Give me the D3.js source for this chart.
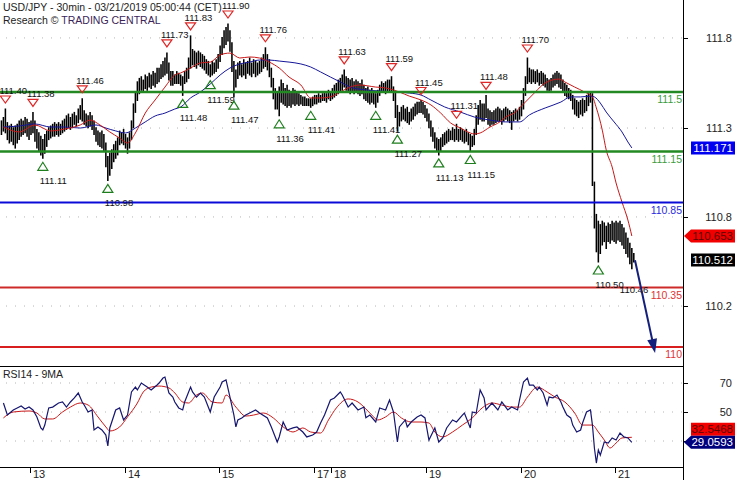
<!DOCTYPE html>
<html>
<head>
<meta charset="utf-8">
<script src="https://cdn.jsdelivr.net/npm/d3@7"></script>
<style>
  body { margin: 0; background: #fff; }
  svg text { font-family: "Liberation Sans", Arial, sans-serif; }
</style>
</head>
<body>
<svg id="chart" width="735" height="480"></svg>
<script>
// USD/JPY 30min bars, 12 Mar (late) .. 21 Mar 05:00 — one [high, low] per bar
const barHigh = [
  111.33,111.35,111.40,111.32,111.30,111.31,111.29,111.30,111.31,111.33,
  111.34,111.33,111.35,111.34,111.32,111.33,111.38,111.33,111.28,111.26,
  111.24,111.22,111.25,111.27,111.29,111.30,111.31,111.32,111.31,111.32,
  111.31,111.33,111.34,111.36,111.37,111.35,111.37,111.38,111.36,111.40,
  111.42,111.46,111.39,111.37,111.36,111.38,111.36,111.33,111.29,111.27,
  111.26,111.27,111.25,111.20,111.12,111.14,111.16,111.19,111.21,111.23,
  111.27,111.26,111.28,111.25,111.23,111.26,111.33,111.43,111.50,111.56,
  111.58,111.59,111.57,111.60,111.59,111.61,111.60,111.62,111.61,111.64,
  111.64,111.66,111.68,111.70,111.73,111.67,111.62,111.62,111.60,111.62,
  111.61,111.60,111.59,111.62,111.64,111.70,111.83,111.75,111.74,111.73,
  111.74,111.73,111.72,111.71,111.69,111.68,111.66,111.68,111.67,111.69,
  111.72,111.77,111.82,111.86,111.88,111.90,111.86,111.79,111.68,111.63,
  111.67,111.68,111.66,111.69,111.67,111.68,111.70,111.67,111.69,111.68,
  111.67,111.68,111.70,111.72,111.76,111.72,111.69,111.64,111.58,111.52,
  111.50,111.53,111.57,111.55,111.52,111.54,111.51,111.50,111.52,111.51,
  111.50,111.49,111.48,111.47,111.47,111.46,111.46,111.46,111.47,111.48,
  111.48,111.49,111.48,111.49,111.50,111.49,111.51,111.50,111.52,111.54,
  111.55,111.57,111.58,111.60,111.63,111.59,111.58,111.57,111.58,111.56,
  111.57,111.56,111.55,111.57,111.54,111.52,111.53,111.51,111.52,111.50,
  111.49,111.51,111.54,111.56,111.55,111.56,111.57,111.57,111.59,111.53,
  111.50,111.42,111.38,111.41,111.42,111.40,111.41,111.38,111.40,111.41,
  111.43,111.44,111.44,111.45,111.44,111.42,111.40,111.37,111.33,111.29,
  111.26,111.23,111.22,111.23,111.25,111.26,111.27,111.28,111.27,111.29,
  111.28,111.31,111.28,111.29,111.28,111.27,111.28,111.26,111.25,111.24,
  111.28,111.36,111.42,111.45,111.43,111.43,111.48,111.40,111.39,111.38,
  111.39,111.40,111.41,111.40,111.39,111.40,111.41,111.40,111.39,111.38,
  111.39,111.40,111.39,111.41,111.45,111.52,111.59,111.70,111.64,111.63,
  111.63,111.62,111.63,111.61,111.62,111.61,111.60,111.58,111.57,111.58,
  111.60,111.61,111.62,111.61,111.60,111.57,111.55,111.54,111.52,111.51,
  111.48,111.46,111.45,111.44,111.45,111.46,111.45,111.48,111.49,111.50,
  111.49,110.97,110.78,110.74,110.72,110.74,110.73,110.71,110.73,110.72,
  110.74,110.73,110.74,110.73,110.74,110.72,110.70,110.67,110.64,110.61,
  110.58,110.55
];
const barLow = [
  111.25,111.27,111.26,111.22,111.20,111.21,111.19,111.17,111.20,111.22,
  111.24,111.25,111.26,111.24,111.22,111.25,111.26,111.21,111.17,111.15,
  111.13,111.11,111.14,111.18,111.22,111.23,111.24,111.24,111.25,111.24,
  111.25,111.26,111.27,111.28,111.29,111.28,111.29,111.31,111.30,111.32,
  111.34,111.33,111.31,111.30,111.29,111.30,111.28,111.25,111.21,111.19,
  111.18,111.17,111.15,111.06,110.98,111.01,111.05,111.09,111.11,111.13,
  111.19,111.20,111.19,111.17,111.14,111.17,111.22,111.29,111.38,111.45,
  111.49,111.51,111.50,111.52,111.51,111.53,111.52,111.54,111.53,111.55,
  111.56,111.58,111.59,111.60,111.61,111.57,111.54,111.54,111.55,111.55,
  111.55,111.54,111.48,111.55,111.56,111.58,111.64,111.66,111.65,111.64,
  111.66,111.65,111.64,111.63,111.61,111.60,111.59,111.60,111.61,111.62,
  111.64,111.68,111.72,111.76,111.78,111.80,111.74,111.62,111.47,111.53,
  111.58,111.60,111.59,111.60,111.58,111.61,111.60,111.59,111.61,111.59,
  111.60,111.61,111.62,111.64,111.65,111.63,111.59,111.53,111.46,111.40,
  111.40,111.36,111.44,111.43,111.42,111.41,111.42,111.41,111.43,111.42,
  111.43,111.42,111.43,111.42,111.42,111.42,111.42,111.41,111.42,111.43,
  111.43,111.44,111.44,111.45,111.45,111.44,111.46,111.45,111.46,111.47,
  111.48,111.49,111.50,111.51,111.53,111.51,111.50,111.49,111.50,111.49,
  111.50,111.49,111.48,111.49,111.46,111.45,111.44,111.43,111.44,111.43,
  111.41,111.44,111.48,111.50,111.50,111.49,111.50,111.50,111.50,111.45,
  111.35,111.27,111.30,111.33,111.34,111.33,111.32,111.31,111.33,111.34,
  111.36,111.37,111.38,111.38,111.37,111.35,111.33,111.29,111.24,111.21,
  111.17,111.15,111.13,111.15,111.18,111.19,111.20,111.21,111.22,111.22,
  111.21,111.22,111.21,111.22,111.21,111.20,111.21,111.19,111.15,111.18,
  111.19,111.25,111.31,111.34,111.33,111.33,111.35,111.31,111.30,111.31,
  111.31,111.32,111.33,111.33,111.31,111.33,111.34,111.33,111.32,111.28,
  111.33,111.34,111.33,111.34,111.36,111.40,111.48,111.55,111.56,111.55,
  111.56,111.55,111.56,111.54,111.55,111.54,111.53,111.51,111.50,111.51,
  111.53,111.54,111.55,111.53,111.52,111.50,111.48,111.47,111.46,111.45,
  111.40,111.37,111.36,111.35,111.37,111.36,111.38,111.39,111.42,111.44,
  110.95,110.70,110.56,110.50,110.55,110.60,110.62,110.58,110.62,110.61,
  110.63,110.62,110.61,110.63,110.62,110.60,110.58,110.55,110.53,110.49,
  110.46,110.50
];

// moving averages: [bar, price]
const maFast = [
  [1,111.294],[9,111.265],[17,111.306],[25,111.271],[32,111.282],[40,111.306],[45,111.335],
  [50,111.306],[55,111.265],[60,111.229],[64,111.200],[68,111.259],[73,111.376],[78,111.453],
  [83,111.529],[88,111.600],[91,111.612],[96,111.641],[101,111.671],[106,111.676],[111,111.718],
  [116,111.729],[121,111.700],[126,111.706],[131,111.700],[136,111.676],[141,111.641],[146,111.588],
  [152,111.541],[157,111.465],[162,111.465],[167,111.471],[172,111.500],[177,111.529],[182,111.541],
  [190,111.529],[195,111.524],[199,111.512],[202,111.500],[207,111.476],[213,111.453],[218,111.424],
  [223,111.376],[228,111.318],[233,111.288],[238,111.259],[240,111.253],[243,111.259],[248,111.294],
  [253,111.324],[256,111.353],[261,111.382],[263,111.406],[267,111.453],[271,111.500],[276,111.553],
  [283,111.576],[286,111.559],[291,111.529],[296,111.500],[300,111.471],[302,111.406],[305,111.276],
  [307,111.159],[310,111.059],[312,110.965],[315,110.853],[318,110.747],[320,110.653]
];
const maSlow = [
  [1,111.294],[9,111.300],[17,111.312],[25,111.294],[32,111.294],[40,111.288],[48,111.306],
  [53,111.288],[58,111.271],[63,111.259],[68,111.288],[73,111.324],[78,111.359],[83,111.376],
  [88,111.400],[91,111.412],[96,111.465],[101,111.500],[106,111.547],[111,111.600],[116,111.641],
  [121,111.665],[126,111.676],[131,111.688],[136,111.688],[141,111.682],[146,111.676],[152,111.665],
  [157,111.647],[162,111.618],[167,111.588],[172,111.559],[177,111.529],[185,111.512],[192,111.506],
  [200,111.500],[207,111.494],[213,111.482],[218,111.453],[225,111.412],[233,111.382],[240,111.353],
  [248,111.335],[256,111.324],[263,111.324],[268,111.365],[276,111.406],[284,111.441],[289,111.471],
  [294,111.471],[299,111.476],[301,111.471],[304,111.435],[307,111.382],[311,111.324],[315,111.265],
  [318,111.206],[320,111.171]
];

// swing highs / lows marked on the chart: [bar, price]
const swingHighs = [
  [2,111.40],[16,111.38],[41,111.46],[84,111.73],[96,111.83],[115,111.90],[134,111.76],
  [174,111.63],[198,111.59],[213,111.45],[231,111.31],[246,111.48],[267,111.70]
];
const swingLows = [
  [21,111.11],[54,110.98],[92,111.48],[106,111.59],[118,111.47],[141,111.36],[157,111.41],
  [190,111.41],[201,111.27],[222,111.13],[238,111.15],[303,110.50]
];
const pendingLow = [320,110.46];

// support / resistance levels
const levels = [
  { v: 111.5,  label: "111.5",  line: "#238a23", text: "#3c9c3c", w: 2.5 },
  { v: 111.15, label: "111.15", line: "#238a23", text: "#3c9c3c", w: 2.5 },
  { v: 110.85, label: "110.85", line: "#0a0ad8", text: "#2a2ae0", w: 2 },
  { v: 110.35, label: "110.35", line: "#cf2a2a", text: "#e03434", w: 2 },
  { v: 110,    label: "110",    line: "#d81e1e", text: "#e03434", w: 2 }
];

const forecastFrom = [321.6, 110.51];
const forecastTo   = [331.8, 109.965];

// RSI14 and its 9MA: [bar, value]
const rsi = [
  [1,56.2],[3,47.9],[6,51.4],[8,52.8],[10,54.1],[12,52.1],[14,53.4],[16,51.4],[18,46.6],[20,39.0],
  [21,37.6],[22,41.0],[24,52.8],[26,53.4],[29,56.2],[31,56.9],[33,53.4],[35,56.9],[37,59.7],[39,63.1],
  [41,56.9],[42,54.8],[44,50.0],[46,51.4],[47,37.6],[49,39.7],[51,37.6],[53,34.1],[54,26.6],[55,39.0],
  [58,51.4],[60,52.8],[62,44.5],[64,47.9],[66,63.8],[68,67.2],[69,65.2],[71,70.0],[74,67.2],[76,65.2],
  [79,68.6],[80,70.0],[82,73.4],[83,74.1],[85,63.1],[87,60.3],[88,56.9],[90,52.8],[92,51.4],[93,56.9],
  [96,67.2],[97,63.8],[99,60.3],[101,63.1],[103,60.3],[106,50.0],[108,60.3],[111,67.2],[112,70.7],[114,72.1],
  [116,60.3],[118,47.9],[119,39.7],[120,44.5],[122,45.9],[124,47.9],[126,49.3],[129,51.4],[131,49.3],[135,45.9],
  [137,39.7],[140,29.3],[141,32.8],[143,43.1],[145,37.6],[148,39.0],[150,39.7],[153,36.2],[155,32.8],[158,34.1],
  [160,36.2],[162,42.4],[164,47.9],[167,58.3],[169,59.7],[172,63.8],[173,61.7],[176,53.4],[178,56.2],[181,51.4],
  [184,53.4],[185,46.0],[187,47.9],[190,43.1],[192,52.8],[195,51.4],[197,58.3],[199,50.0],[201,29.3],[202,39.7],
  [205,44.5],[206,39.7],[208,43.1],[211,46.6],[213,47.9],[215,45.9],[217,30.7],[219,36.2],[220,39.0],[222,29.3],
  [224,32.1],[226,39.0],[229,44.5],[231,43.1],[234,47.9],[235,49.3],[238,39.0],[239,50.0],[241,49.3],[243,65.2],
  [245,59.7],[246,51.4],[249,56.2],[252,51.4],[254,56.9],[257,51.4],[259,53.4],[262,51.4],[263,58.3],[265,70.7],
  [267,73.4],[268,68.6],[270,68.6],[272,65.2],[273,67.2],[275,63.1],[277,54.8],[278,60.3],[280,59.7],[282,61.7],
  [284,56.9],[285,53.4],[287,47.9],[289,45.9],[290,41.0],[292,36.2],[294,37.6],[295,42.4],[297,50.0],[299,51.4],
  [300,41.0],[301,25.2],[302,14.8],[303,23.8],[304,20.3],[306,29.3],[308,28.6],[310,32.1],[312,30.7],[314,35.5],
  [316,32.8],[318,32.1],[320,29.0593]
];
const rsiMa = [
  [1,45.9],[6,50.0],[14,50.7],[18,49.3],[22,45.2],[26,45.2],[31,50.0],[35,53.4],[40,56.2],[44,54.8],
  [49,46.6],[53,39.7],[55,36.9],[60,39.7],[64,46.6],[69,56.2],[72,63.8],[76,67.2],[80,67.9],[85,66.6],
  [88,63.1],[92,56.9],[95,56.2],[99,61.7],[102,63.1],[107,56.9],[112,56.2],[114,61.7],[119,53.4],[124,47.2],
  [128,47.9],[133,49.3],[138,45.9],[143,39.7],[148,36.2],[153,39.0],[157,36.2],[162,35.5],[166,44.5],[170,52.8],
  [176,59.0],[181,56.9],[185,52.1],[188,47.9],[191,44.5],[195,46.6],[199,50.0],[203,45.9],[208,43.1],[213,43.1],
  [217,42.4],[220,36.2],[224,32.8],[229,36.2],[234,41.0],[239,45.9],[244,52.8],[249,56.2],[254,54.8],[259,53.4],
  [263,53.4],[267,60.3],[272,67.2],[277,63.8],[281,60.3],[286,56.9],[291,49.3],[295,41.0],[300,41.0],[303,36.2],
  [306,30.7],[309,25.2],[312,28.6],[315,32.1],[320,32.5468]
];

// axes
const dayStart  = [15, 63, 111, 159, 168, 216, 264, 312];
const dayLabels = ["13", "14", "15", "17", "18", "19", "20", "21"];
const priceTicks = [111.818, 111.288, 110.765, 110.241];
const rsiTicks = [70, 50, 30];
const rsiTickLabels = ["70", "50", ""];

const lastPrice = 110.512;

// ---------- layout ----------
const W = 735, H = 480;
const plotR = 683;
const mainBottom = 366, rsiBottom = 467;

const svg = d3.select("#chart");

const x  = d3.scaleLinear().domain([0, 321]).range([1.45, 633.8]);
const y  = d3.scaleLinear().domain([111.5, 110]).range([92, 347]);
const yr = d3.scaleLinear().domain([70, 30]).range([383, 441]);

const fmt2 = d3.format(".2f");
const fmt1 = d3.format(".1f");

// dotted grid
const grid = svg.append("g").attr("stroke", "#b4b4b4").attr("stroke-dasharray", "1,8");
grid.selectAll("line.pg").data(priceTicks).join("line")
    .attr("x1", 6).attr("x2", plotR).attr("y1", d => y(d)).attr("y2", d => y(d));
grid.selectAll("line.rg").data(rsiTicks).join("line")
    .attr("x1", 6).attr("x2", plotR).attr("y1", d => yr(d)).attr("y2", d => yr(d));

// bars
svg.append("g").attr("stroke", "#000").attr("stroke-width", 1.55)
  .selectAll("line").data(barHigh).join("line")
    .attr("x1", (d, i) => x(i)).attr("x2", (d, i) => x(i))
    .attr("y1", d => y(d) - 0.5).attr("y2", (d, i) => y(barLow[i]) + 0.5);

// moving averages
const maLine = d3.line().x(d => x(d[0])).y(d => y(d[1])).curve(d3.curveMonotoneX);
svg.append("path").datum(maSlow).attr("d", maLine)
    .attr("fill", "none").attr("stroke", "#16169a").attr("stroke-width", 1);
svg.append("path").datum(maFast).attr("d", maLine)
    .attr("fill", "none").attr("stroke", "#c81818").attr("stroke-width", 1);

// levels
const lv = svg.append("g");
lv.selectAll("line").data(levels).join("line")
    .attr("x1", 0).attr("x2", plotR)
    .attr("y1", d => y(d.v)).attr("y2", d => y(d.v))
    .attr("stroke", d => d.line).attr("stroke-width", d => d.w);
lv.selectAll("text").data(levels).join("text")
    .attr("x", plotR - 1).attr("y", d => y(d.v) + 11)
    .attr("text-anchor", "end").attr("font-size", 10.5)
    .attr("fill", d => d.text).text(d => d.label);

// swing markers
const mk = svg.append("g").attr("font-size", 9.5).attr("fill", "#111");
swingHighs.forEach(([i, v]) => {
  const cx = x(i), cy = y(v);
  mk.append("path")
    .attr("d", `M${cx - 5},${cy - 13}L${cx + 5},${cy - 13}L${cx},${cy - 6}Z`)
    .attr("fill", "none").attr("stroke", "#e02626").attr("stroke-width", 1.2);
  mk.append("text").attr("x", cx - 6).attr("y", cy - 15).text(fmt2(v));
});
swingLows.forEach(([i, v]) => {
  const cx = x(i), cy = y(v);
  mk.append("path")
    .attr("d", `M${cx - 5},${cy + 12}L${cx + 5},${cy + 12}L${cx},${cy + 4}Z`)
    .attr("fill", "none").attr("stroke", "#1e7e1e").attr("stroke-width", 1.2);
  mk.append("text").attr("x", cx - 3).attr("y", cy + 26).text(fmt2(v));
});
mk.append("text").attr("x", x(pendingLow[0]) - 12).attr("y", y(pendingLow[1]) + 24)
    .text(fmt2(pendingLow[1]));

// forecast arrow
{
  const x0 = x(forecastFrom[0]), y0 = y(forecastFrom[1]);
  const x1 = x(forecastTo[0]),   y1 = y(forecastTo[1]);
  const len = Math.hypot(x1 - x0, y1 - y0), ux = (x1 - x0) / len, uy = (y1 - y0) / len;
  const bx = x1 - ux * 14, by = y1 - uy * 14;
  svg.append("line").attr("x1", x0).attr("y1", y0).attr("x2", bx + ux * 2).attr("y2", by + uy * 2)
      .attr("stroke", "#14207c").attr("stroke-width", 2);
  svg.append("path")
      .attr("d", `M${x1},${y1}L${bx - uy * 5},${by + ux * 5}L${bx + uy * 5},${by - ux * 5}Z`)
      .attr("fill", "#14207c");
}

// RSI panel
svg.append("path").datum(rsiMa)
    .attr("d", d3.line().x(d => x(d[0])).y(d => yr(d[1])).curve(d3.curveMonotoneX))
    .attr("fill", "none").attr("stroke", "#c81818").attr("stroke-width", 1);
svg.append("path").datum(rsi).attr("d", d3.line().x(d => x(d[0])).y(d => yr(d[1])))
    .attr("fill", "none").attr("stroke", "#161670").attr("stroke-width", 1.2);
svg.append("text").attr("x", 3).attr("y", 378).attr("font-size", 10.5).attr("fill", "#222")
    .text("RSI14 - 9MA");

// frame
const fr = svg.append("g").attr("stroke", "#000").attr("stroke-width", 1).attr("shape-rendering", "crispEdges");
fr.append("line").attr("x1", plotR + 0.5).attr("x2", plotR + 0.5).attr("y1", 0).attr("y2", H);
fr.append("line").attr("x1", 0).attr("x2", plotR).attr("y1", mainBottom + 0.5).attr("y2", mainBottom + 0.5);
fr.append("line").attr("x1", 0).attr("x2", plotR).attr("y1", rsiBottom + 0.5).attr("y2", rsiBottom + 0.5);

// right axis ticks + labels
const ax = svg.append("g").attr("font-size", 11).attr("fill", "#222").attr("text-anchor", "end");
priceTicks.forEach(v => {
  fr.append("line").attr("x1", plotR).attr("x2", plotR + 5).attr("y1", Math.round(y(v)) + 0.5).attr("y2", Math.round(y(v)) + 0.5);
  ax.append("text").attr("x", 732).attr("y", y(v) + 4).text(fmt1(v));
});
rsiTicks.forEach((v, k) => {
  fr.append("line").attr("x1", plotR).attr("x2", plotR + 5).attr("y1", Math.round(yr(v)) + 0.5).attr("y2", Math.round(yr(v)) + 0.5);
  ax.append("text").attr("x", 732).attr("y", yr(v) + 4).text(rsiTickLabels[k]);
});

// bottom day axis
dayStart.forEach((i, k) => {
  const tx = Math.round(x(i - 0.5)) + 0.5;
  fr.append("line").attr("x1", tx).attr("x2", tx).attr("y1", rsiBottom).attr("y2", rsiBottom + 6);
  ax.append("text").attr("x", tx + 2.5).attr("y", 478).attr("text-anchor", "start").text(dayLabels[k]);
});

// value boxes on the right
function valueBox(cy, text, bg, fg, arrow) {
  const g = svg.append("g");
  const left = 691;
  const pts = arrow
    ? `${684},${cy} ${left},${cy - 6.5} ${W},${cy - 6.5} ${W},${cy + 6.5} ${left},${cy + 6.5}`
    : `${left},${cy - 6.5} ${W},${cy - 6.5} ${W},${cy + 6.5} ${left},${cy + 6.5}`;
  g.append("polygon").attr("points", pts).attr("fill", bg);
  g.append("text").attr("x", 733).attr("y", cy + 4).attr("text-anchor", "end")
    .attr("font-size", 11.5).attr("fill", fg).text(text);
}
const lastSlow = maSlow[maSlow.length - 1][1];
const lastFast = maFast[maFast.length - 1][1];
valueBox(y(lastSlow), d3.format(".3f")(lastSlow), "#0000f0", "#fff", false);
valueBox(y(lastFast), d3.format(".3f")(lastFast), "#f20000", "#5a0000", true);
valueBox(y(lastPrice), d3.format(".3f")(lastPrice), "#000", "#fff", false);

const rsiLast = rsi[rsi.length - 1][1], rsiMaLast = rsiMa[rsiMa.length - 1][1];
const yRsi = yr(rsiLast);
valueBox(Math.min(yr(rsiMaLast), yRsi - 13), d3.format(".4f")(rsiMaLast), "#f20000", "#5a0000", false);
valueBox(yRsi, d3.format(".4f")(rsiLast), "#00007c", "#fff", true);

// title
const tt = svg.append("g").attr("font-size", 10.5).attr("fill", "#222");
tt.append("text").attr("x", 3).attr("y", 11).text("USD/JPY - 30min - 03/21/2019 05:00:44 (CET)");
const t2 = tt.append("text").attr("x", 3).attr("y", 23.5).text("Research © ");
t2.append("tspan").attr("fill", "#3a2458").text("TRADING CENTRAL");
</script>
</body>
</html>
